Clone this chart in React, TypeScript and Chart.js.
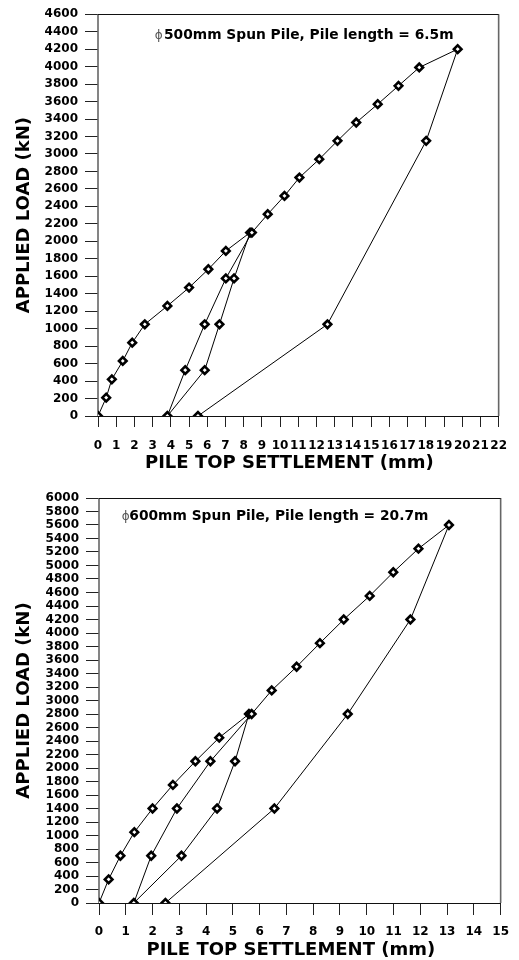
import React, { useEffect, useRef } from "react";
import { Chart, registerables } from "chart.js";

Chart.register(...registerables);

// ---- Data ----
const pile1Settlement = [
  0, 0.45, 0.76, 1.36, 1.88, 2.57, 3.81, 5.0, 6.06, 7.02, 8.35,
  7.47, 6.67, 5.86, 3.81,
  4.79, 5.86, 7.02, 8.45,
  9.32, 10.24, 11.06, 12.15, 13.15, 14.18, 15.36, 16.5, 17.64, 19.75,
  18.02, 12.6, 5.49,
];
const pile1Load = [
  0, 210, 420, 630, 840, 1050, 1260, 1470, 1680, 1890, 2100,
  1575, 1050, 525, 0,
  525, 1050, 1575, 2100,
  2310, 2520, 2730, 2940, 3150, 3360, 3570, 3780, 3990, 4200,
  3150, 1050, 0,
];

const pile2Settlement = [
  0, 0.36, 0.8, 1.32, 2.0, 2.76, 3.6, 4.49, 5.6,
  5.08, 4.41, 3.08, 1.3,
  1.95, 2.91, 4.16, 5.7,
  6.45, 7.38, 8.25, 9.14, 10.11, 10.99, 11.93, 13.07,
  11.63, 9.29, 6.55, 2.48,
];
const pile2Load = [
  0, 350, 700, 1050, 1400, 1750, 2100, 2450, 2800,
  2100, 1400, 700, 0,
  700, 1400, 2100, 2800,
  3150, 3500, 3850, 4200, 4550, 4900, 5250, 5600,
  4200, 2800, 1400, 0,
];

const pile1Title = "500mm Spun Pile, Pile length = 6.5m";
const pile2Title = "600mm Spun Pile, Pile length = 20.7m";
const phiSymbol = "\u03D5";
const xAxisTitle = "PILE TOP SETTLEMENT (mm)";
const yAxisTitle = "APPLIED LOAD (kN)";

const pile1XMax = 22;
const pile1YMax = 4600;
const pile2XMax = 15;
const pile2YMax = 6000;
const xStep = 1;
const yStep = 200;

// ---- Layout / style ----
const W = 519;
const H = 480;
const FONT = "'DejaVu Sans', 'Liberation Sans', sans-serif";

type PileCfg = {
  settlement: number[];
  load: number[];
  title: string;
  xMax: number;
  yMax: number;
  plotLeft: number;
  plotTop: number;
  plotRight: number;
  plotBottom: number;
  xTickLen: number;
  xTickPad: number;
  phiX: number;
  textX: number;
  titleBaseline: number;
  xTitleY: number;
};

const topCfg: PileCfg = {
  settlement: pile1Settlement,
  load: pile1Load,
  title: pile1Title,
  xMax: pile1XMax,
  yMax: pile1YMax,
  plotLeft: 98,
  plotTop: 12,
  plotRight: 502,
  plotBottom: 416,
  xTickLen: 11,
  xTickPad: 12,
  phiX: 158.8,
  textX: 164,
  titleBaseline: 39,
  xTitleY: 463.5,
};

const bottomCfg: PileCfg = {
  settlement: pile2Settlement,
  load: pile2Load,
  title: pile2Title,
  xMax: pile2XMax,
  yMax: pile2YMax,
  plotLeft: 99,
  plotTop: 18,
  plotRight: 504,
  plotBottom: 423,
  xTickLen: 12,
  xTickPad: 10,
  phiX: 125.8,
  textX: 129.3,
  titleBaseline: 40,
  xTitleY: 470,
};

function PileChart({ cfg }: { cfg: PileCfg }) {
  const ref = useRef<HTMLCanvasElement>(null);

  useEffect(() => {
    const canvas = ref.current;
    if (!canvas) return;

    const framePlugin = {
      id: "frame",
      beforeDatasetsDraw(chart: any) {
        const { ctx, chartArea } = chart;
        const { left, top, right, bottom } = chartArea;
        ctx.save();
        ctx.strokeStyle = "#666";
        ctx.lineWidth = 1.6;
        ctx.beginPath();
        ctx.moveTo(left, top);
        ctx.lineTo(left, bottom);
        ctx.moveTo(right, top);
        ctx.lineTo(right, bottom);
        ctx.stroke();
        ctx.strokeStyle = "#111";
        ctx.lineWidth = 1;
        ctx.beginPath();
        ctx.moveTo(left, Math.round(top) + 0.5);
        ctx.lineTo(right, Math.round(top) + 0.5);
        ctx.moveTo(left, Math.round(bottom) + 0.5);
        ctx.lineTo(right, Math.round(bottom) + 0.5);
        ctx.stroke();
        ctx.restore();
      },
      afterDraw(chart: any) {
        const { ctx, chartArea } = chart;
        ctx.save();
        // inner title
        ctx.fillStyle = "#555";
        ctx.font = `normal 12px ${FONT}`;
        ctx.textAlign = "center";
        ctx.textBaseline = "alphabetic";
        ctx.fillText(phiSymbol, cfg.phiX, cfg.titleBaseline);
        ctx.fillStyle = "#000";
        ctx.font = `bold 13.8px ${FONT}`;
        ctx.textAlign = "left";
        ctx.fillText(cfg.title, cfg.textX, cfg.titleBaseline);
        // x axis title
        ctx.font = `bold 18px ${FONT}`;
        ctx.textAlign = "center";
        ctx.textBaseline = "middle";
        ctx.fillText(xAxisTitle, (chartArea.left + chartArea.right) / 2 - 9, cfg.xTitleY);
        ctx.restore();
      },
    };

    const chart = new Chart(canvas, {
      type: "scatter",
      data: {
        datasets: [
          {
            data: cfg.settlement.map((x, i) => ({ x, y: cfg.load[i] })),
            showLine: true,
            borderColor: "#000",
            borderWidth: 1,
            tension: 0,
            pointStyle: "rectRot",
            pointRadius: 3.8,
            pointBorderWidth: 2.6,
            pointBackgroundColor: "#fff",
            pointBorderColor: "#000",
          } as any,
        ],
      },
      options: {
        responsive: false,
        animation: false,
        events: [],
        layout: {
          padding: { top: cfg.plotTop, right: W - cfg.plotRight, left: 0, bottom: 0 },
        },
        plugins: {
          legend: { display: false },
          tooltip: { enabled: false },
          title: { display: false },
        },
        scales: {
          x: {
            type: "linear",
            min: 0,
            max: cfg.xMax,
            border: { display: false },
            grid: {
              drawOnChartArea: false,
              drawTicks: true,
              tickLength: cfg.xTickLen,
              tickColor: "#222",
              tickWidth: 1,
            },
            ticks: {
              stepSize: xStep,
              autoSkip: false,
              maxRotation: 0,
              minRotation: 0,
              padding: cfg.xTickPad,
              color: "#000",
              font: { family: FONT, size: 12, weight: "bold" },
              callback: (v: any) => String(v),
            },
            afterFit: (s: any) => {
              s.height = H - cfg.plotBottom;
            },
          },
          y: {
            type: "linear",
            min: 0,
            max: cfg.yMax,
            border: { display: false },
            grid: {
              drawOnChartArea: false,
              drawTicks: true,
              tickLength: 13,
              tickColor: "#222",
              tickWidth: 1,
            },
            ticks: {
              stepSize: yStep,
              autoSkip: false,
              padding: 7,
              color: "#000",
              font: { family: FONT, size: 12, weight: "bold" },
              callback: (v: any) => String(v),
            },
            title: {
              display: true,
              text: yAxisTitle,
              color: "#000",
              font: { family: FONT, size: 18, weight: "bold" },
              padding: { top: 14, bottom: 0 },
            },
            afterFit: (s: any) => {
              s.width = cfg.plotLeft;
            },
          },
        },
      } as any,
      plugins: [framePlugin],
    });

    return () => chart.destroy();
  }, [cfg]);

  return (
    <canvas
      ref={ref}
      width={W}
      height={H}
      style={{ display: "block", width: W, height: H }}
    />
  );
}

export default function App() {
  return (
    <div
      style={{
        position: "absolute",
        left: 0,
        top: 0,
        width: W,
        height: 2 * H,
        background: "#fff",
      }}
    >
      <PileChart cfg={topCfg} />
      <PileChart cfg={bottomCfg} />
    </div>
  );
}
